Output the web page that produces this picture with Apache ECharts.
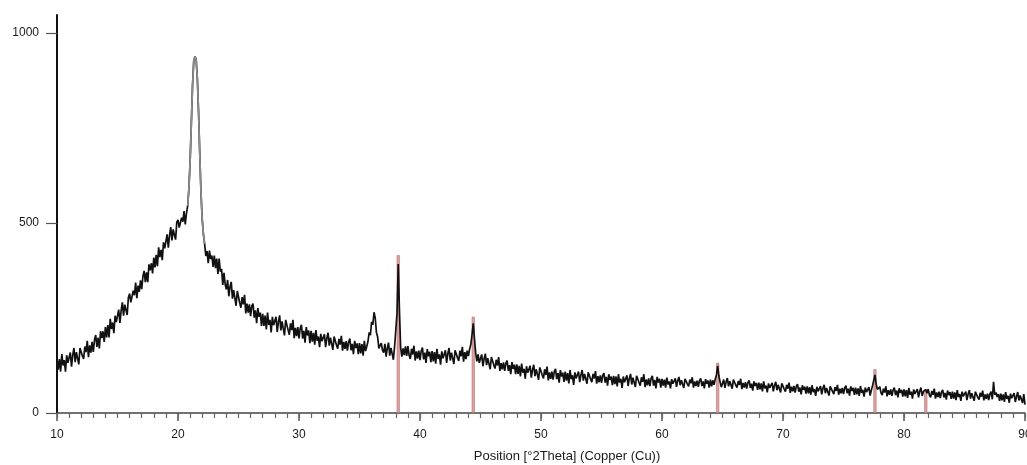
<!DOCTYPE html>
<html>
<head>
<meta charset="utf-8">
<script src="https://cdn.jsdelivr.net/npm/echarts@6/dist/echarts.min.js"></script>
<style>
html,body{margin:0;padding:0;background:#fff;}
#chart{width:1027px;height:465px;}
</style>
</head>
<body>
<div id="chart"></div>
<script>
// Scan settings (2Theta start and step, degrees)
const scanStart = 10;
const scanStep = 0.1;

const intensity = [
  144,114,142,109,155,125,139,109,152,132,
  130,159,122,152,171,134,160,144,128,171,
  176,150,142,175,160,190,147,178,159,187,
  161,192,205,174,198,170,215,197,215,187,
  226,199,231,199,248,221,238,210,256,239,
  240,272,237,269,291,256,285,271,258,304,
  314,291,286,322,310,343,302,335,319,349,
  326,359,374,344,370,344,391,375,394,367,
  409,383,416,386,436,410,429,402,449,433,
  438,470,435,467,489,454,483,469,456,502,
  508,488,483,514,503,531,496,525,545,590,
  660,760,860,925,938,930,880,790,680,580,
  510,470,445,413,426,394,427,405,414,384,
  414,381,406,366,406,372,379,337,369,338,
  325,350,307,332,345,301,323,302,282,321,
  321,290,277,305,286,311,262,288,264,286,
  255,281,288,251,270,236,276,253,264,229,
  261,229,256,220,264,232,245,212,253,231,
  226,253,213,240,257,217,241,222,204,245,
  247,218,206,236,218,245,197,224,202,226,
  196,223,232,196,216,185,226,204,217,184,
  216,188,211,180,218,190,201,173,208,189,
  184,207,173,197,211,177,198,182,166,201,
  203,178,169,195,180,203,164,187,169,189,
  164,187,196,165,182,155,190,171,183,155,
  184,157,181,151,190,163,175,188,212,205,
  240,232,265,250,212,200,170,178,184,165,
  159,182,148,171,185,151,171,156,140,175,
  180,262,392,272,172,148,170,152,175,150,
  176,152,142,169,154,177,138,162,143,164,
  139,163,172,141,159,132,168,149,161,134,
  163,136,160,130,169,142,154,127,162,144,
  141,165,132,156,171,138,159,144,129,165,
  169,145,137,164,149,174,135,160,142,164,
  150,168,180,206,236,196,158,136,154,132,
  133,154,123,143,156,126,144,130,115,147,
  148,126,117,140,125,147,111,131,115,133,
  111,131,138,111,126,102,134,116,127,102,
  128,103,124,96,130,106,116,90,123,106,
  102,124,93,114,127,97,115,102,87,120,
  121,100,91,115,100,122,86,107,90,109,
  88,109,116,89,105,80,113,96,106,82,
  109,85,105,78,113,89,99,74,107,91,
  89,109,81,100,113,85,103,90,77,107,
  109,89,81,103,91,110,77,97,81,99,
  79,99,105,80,95,72,102,87,96,73,
  98,76,96,70,102,80,90,66,96,81,
  79,99,71,91,103,75,93,80,68,98,
  100,80,72,94,82,102,68,88,73,91,
  71,91,98,72,87,65,95,80,90,67,
  90,72,88,67,93,75,83,65,89,77,
  75,91,69,85,95,73,86,76,66,90,
  92,76,70,88,78,94,67,83,71,85,
  69,85,91,71,83,65,89,77,85,67,
  88,70,86,74,89,100,124,98,82,68,
  72,88,66,82,92,70,84,74,64,88,
  89,73,67,84,74,90,63,79,67,81,
  64,80,86,66,77,59,83,71,79,61,
  80,62,78,57,83,65,72,54,78,66,
  63,79,57,73,82,60,74,64,54,78,
  79,63,56,74,64,80,53,69,57,71,
  54,70,76,56,67,49,73,61,69,51,
  70,52,68,48,73,55,63,45,69,57,
  55,71,49,65,74,52,66,56,46,70,
  72,56,50,68,58,74,48,64,52,66,
  50,66,72,52,64,46,70,58,66,48,
  67,49,65,45,71,53,61,43,67,55,
  52,68,46,60,72,75,100,76,62,64,
  69,53,47,64,54,70,44,60,48,62,
  45,61,67,47,59,41,65,53,61,43,
  62,44,60,40,66,48,56,38,62,50,
  47,63,41,57,67,45,56,60,62,52,
  63,47,41,58,48,64,38,54,42,56,
  39,55,61,41,53,35,59,47,55,37,
  56,38,54,34,60,42,50,32,56,44,
  40,56,34,50,60,38,52,42,32,56,
  57,41,35,53,43,59,33,49,37,51,
  34,50,56,36,82,48,54,42,50,32,
  51,33,49,29,55,37,45,27,51,39,
  36,52,29,43,55,33,46,36,26,50,
  22
];

// Range of the main peak that is drawn in grey in the original
const greyPeakRange = [20.8, 22.2];

// Reference pattern sticks (position in 2Theta, height in counts)
const stickPositions = [38.2, 44.4, 64.6, 77.6, 81.8];
const stickHeights = [415, 253, 132, 115, 58];

// Axis ticks
const xTicks = [10, 20, 30, 40, 50, 60, 70, 80, 90];
const yTicks = [0, 500, 1000];
const xAxisTitle = 'Position [°2Theta] (Copper (Cu))';

const scanData = intensity.map((v, i) => [+(scanStart + i * scanStep).toFixed(2), v]);
const greyData = scanData.filter(d => d[0] >= greyPeakRange[0] - 1e-9 && d[0] <= greyPeakRange[1] + 1e-9);
const stickData = stickPositions.map((p, i) => [p, stickHeights[i]]);

const chart = echarts.init(document.getElementById('chart'), null, {renderer: 'canvas'});
chart.setOption({
  animation: false,
  backgroundColor: '#ffffff',
  grid: {left: 57, right: 2, top: 15, bottom: 52, containLabel: false, outerBoundsMode: 'none'},
  xAxis: [{
    type: 'value',
    min: xTicks[0],
    max: xTicks[xTicks.length - 1],
    interval: 10,
    name: xAxisTitle,
    nameLocation: 'middle',
    nameGap: 37,
    nameTextStyle: {fontFamily: 'Liberation Sans', fontSize: 13, color: '#1a1a1a', padding: [0, 0, 0, 52]},
    axisLine: {show: true, onZero: false, lineStyle: {color: '#444', width: 1.5}},
    axisTick: {show: true, inside: false, length: 8, lineStyle: {color: '#555', width: 1.5}},
    axisLabel: {margin: 16, fontFamily: 'Liberation Sans', fontSize: 12, color: '#1a1a1a',
                showMinLabel: true, showMaxLabel: true},
    splitLine: {show: false}
  }, {
    type: 'value',
    position: 'bottom',
    min: xTicks[0],
    max: xTicks[xTicks.length - 1],
    interval: 1,
    axisLine: {show: false, onZero: false},
    axisTick: {show: true, inside: false, length: 5, lineStyle: {color: '#666', width: 1.2}},
    axisLabel: {show: false},
    splitLine: {show: false}
  }],
  yAxis: {
    type: 'value',
    min: 0,
    max: 1047,
    axisLine: {show: true, onZero: false, lineStyle: {color: '#111', width: 2}},
    axisTick: {show: true, inside: false, length: 11, customValues: yTicks, lineStyle: {color: '#555', width: 1.2}},
    axisLabel: {margin: 18, fontFamily: 'Liberation Sans', fontSize: 12, color: '#1a1a1a',
                customValues: yTicks, formatter: v => String(v)},
    splitLine: {show: false}
  },
  series: [
    {
      type: 'bar',
      data: stickData,
      barWidth: 3,
      z: 1,
      itemStyle: {color: '#dba5a5', borderColor: '#b86868', borderWidth: 0.6},
      silent: true
    },
    {
      type: 'line',
      data: scanData,
      showSymbol: false,
      symbol: 'none',
      z: 3,
      lineStyle: {color: '#111', width: 1.7},
      silent: true
    },
    {
      type: 'line',
      data: greyData,
      showSymbol: false,
      symbol: 'none',
      z: 4,
      lineStyle: {color: '#8c8c8c', width: 1.7},
      silent: true
    }
  ]
});
</script>
</body>
</html>
